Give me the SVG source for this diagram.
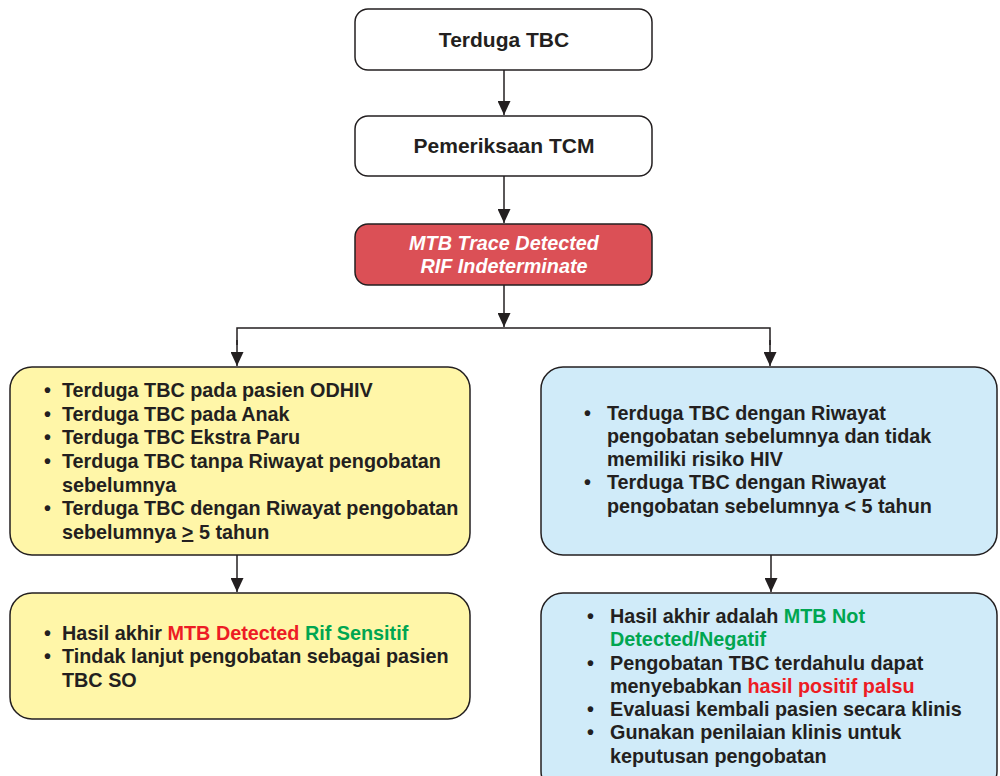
<svg xmlns="http://www.w3.org/2000/svg" width="1000" height="776" viewBox="0 0 1000 776">
<style>
.box{stroke:#231f20;stroke-width:1.5}
.w{fill:#ffffff}
.red{fill:#db5056}
.yel{fill:#fff6a8}
.blu{fill:#d0ebf9}
.t{font-family:"Liberation Sans",Arial,sans-serif;font-weight:bold;fill:#231f20}
.c{text-anchor:middle}
.it{font-style:italic;fill:#ffffff}
.rt{fill:#ed1c24}
.gt{fill:#00a651}
.conn{stroke:#231f20;stroke-width:1.5;fill:none}
</style>
<defs>
<marker id="ah" markerWidth="14" markerHeight="13" refX="14" refY="6.5" orient="auto" markerUnits="userSpaceOnUse">
<path d="M0,0 L14,6.5 L0,13 Z" fill="#231f20"/>
</marker>
</defs>
<g id="connectors">
<line class="conn" x1="504" y1="70" x2="504" y2="115" marker-end="url(#ah)"/>
<line class="conn" x1="504" y1="176" x2="504" y2="223" marker-end="url(#ah)"/>
<line class="conn" x1="504" y1="285" x2="504" y2="327" marker-end="url(#ah)"/>
<polyline class="conn" points="237,345 237,328 770,328 770,345"/>
<line class="conn" x1="237" y1="340" x2="237" y2="366" marker-end="url(#ah)"/>
<line class="conn" x1="770" y1="340" x2="770" y2="366" marker-end="url(#ah)"/>
<line class="conn" x1="237" y1="555" x2="237" y2="592" marker-end="url(#ah)"/>
<line class="conn" x1="771" y1="555" x2="771" y2="592" marker-end="url(#ah)"/>
</g>
<g id="n1">
<rect class="box w" x="355" y="9" width="297" height="61" rx="13"/>
<text class="t c" x="504" y="47" font-size="21">Terduga TBC</text>
</g>
<g id="n2">
<rect class="box w" x="355" y="116" width="297" height="60" rx="13"/>
<text class="t c" x="504" y="153" font-size="21">Pemeriksaan TCM</text>
</g>
<g id="n3">
<rect class="box red" x="355" y="224" width="297" height="61" rx="13"/>
<text class="t c it" x="504" y="250" font-size="19.8">MTB Trace Detected</text>
<text class="t c it" x="504" y="273" font-size="19.8">RIF Indeterminate</text>
</g>
<g id="n4">
<rect class="box yel" x="10" y="367" width="460" height="188" rx="22"/>
<g class="t" font-size="19.8">
<text x="44" y="397">•</text><text x="62" y="397">Terduga TBC pada pasien ODHIV</text>
<text x="44" y="421">•</text><text x="62" y="421">Terduga TBC pada Anak</text>
<text x="44" y="444">•</text><text x="62" y="444">Terduga TBC Ekstra Paru</text>
<text x="44" y="468">•</text><text x="62" y="468">Terduga TBC tanpa Riwayat pengobatan</text>
<text x="62" y="492">sebelumnya</text>
<text x="44" y="515">•</text><text x="62" y="515">Terduga TBC dengan Riwayat pengobatan</text>
<text x="62" y="539">sebelumnya <tspan text-decoration="underline">&gt;</tspan> 5 tahun</text>
</g>
</g>
<g id="n5">
<rect class="box blu" x="541" y="367" width="456" height="188" rx="22"/>
<g class="t" font-size="19.8">
<text x="584" y="420">•</text><text x="607" y="420">Terduga TBC dengan Riwayat</text>
<text x="607" y="443">pengobatan sebelumnya dan tidak</text>
<text x="607" y="466">memiliki risiko HIV</text>
<text x="584" y="489">•</text><text x="607" y="489">Terduga TBC dengan Riwayat</text>
<text x="607" y="513">pengobatan sebelumnya &lt; 5 tahun</text>
</g>
</g>
<g id="n6">
<rect class="box yel" x="10" y="593" width="460" height="126" rx="22"/>
<g class="t" font-size="19.8">
<text x="44" y="640">•</text><text x="62" y="640">Hasil akhir <tspan class="rt">MTB Detected</tspan> <tspan class="gt">Rif Sensitif</tspan></text>
<text x="44" y="663">•</text><text x="62" y="663">Tindak lanjut pengobatan sebagai pasien</text>
<text x="62" y="687">TBC SO</text>
</g>
</g>
<g id="n7">
<rect class="box blu" x="541" y="593" width="456" height="200" rx="22"/>
<g class="t" font-size="19.8">
<text x="587" y="623">•</text><text x="610" y="623">Hasil akhir adalah <tspan class="gt">MTB Not</tspan></text>
<text x="610" y="646" class="gt">Detected/Negatif</text>
<text x="587" y="670">•</text><text x="610" y="670">Pengobatan TBC terdahulu dapat</text>
<text x="610" y="693">menyebabkan <tspan class="rt">hasil positif palsu</tspan></text>
<text x="587" y="716">•</text><text x="610" y="716">Evaluasi kembali pasien secara klinis</text>
<text x="587" y="739">•</text><text x="610" y="739">Gunakan penilaian klinis untuk</text>
<text x="610" y="763">keputusan pengobatan</text>
</g>
</g>
</svg>
